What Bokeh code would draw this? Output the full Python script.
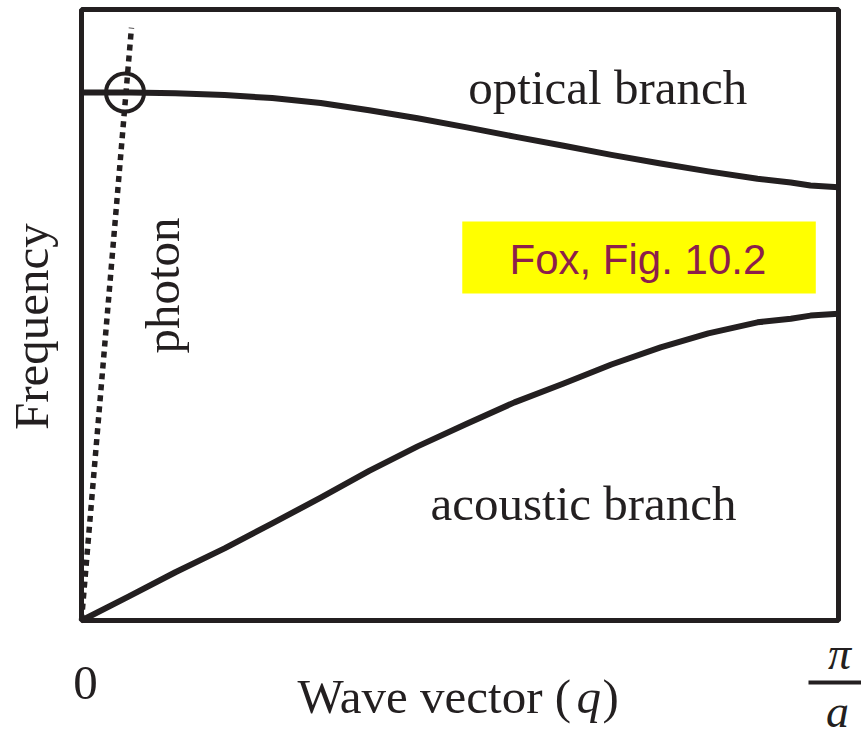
import math
from bokeh.plotting import figure
from bokeh.models import Range1d, Label
from bokeh.embed import file_html
from bokeh.resources import INLINE

# ---- data (q in units of pi/a, frequency normalised to the frame height) ----
optical_q = [0.0, 0.065, 0.124, 0.189, 0.252, 0.316, 0.380, 0.444, 0.509, 0.572,
             0.637, 0.700, 0.765, 0.828, 0.893, 0.937, 0.963, 1.0]
optical_f = [0.864, 0.864, 0.863, 0.860, 0.855, 0.847, 0.835, 0.822, 0.807, 0.792,
             0.777, 0.762, 0.748, 0.735, 0.723, 0.717, 0.712, 0.709]

acoustic_q = [0.0, 0.062, 0.124, 0.189, 0.252, 0.316, 0.380, 0.444, 0.509, 0.572,
              0.637, 0.700, 0.765, 0.828, 0.893, 0.937, 0.963, 1.0]
acoustic_f = [0.0, 0.039, 0.079, 0.118, 0.159, 0.201, 0.245, 0.285, 0.322, 0.357,
              0.388, 0.419, 0.447, 0.470, 0.488, 0.494, 0.499, 0.502]

photon_q = [0.0, 0.066]
photon_f = [0.0, 0.970]

crossing_q = [0.0575]
crossing_f = [0.864]

box_q = [0.503, 0.970]   # yellow note box
box_f = [0.535, 0.653]

INK = "#231f20"
SERIF = "Liberation Serif"

# frame spans q 0..1 and f 0..1; canvas margins expressed in data units
x_lo, x_hi = -81 / 757, 780 / 757
y_lo, y_hi = -118 / 611, 620 / 611
DY = 14 / 611   # baseline correction (horizontal texts)
DX = 14 / 757   # baseline correction (rotated texts)

p = figure(width=861, height=738, output_backend="svg", toolbar_location=None,
           x_range=Range1d(x_lo, x_hi), y_range=Range1d(y_lo, y_hi),
           x_axis_location=None, y_axis_location=None, min_border=0)
p.outline_line_color = None
p.grid.visible = False
p.background_fill_color = "white"
p.border_fill_color = "white"

# frame box
p.quad(left=[0], right=[1], bottom=[0], top=[1], fill_color=None,
       line_color=INK, line_width=5)

# yellow note
p.quad(left=[box_q[0]], right=[box_q[1]], bottom=[box_f[0]], top=[box_f[1]],
       fill_color="#ffff00", line_color=None)

# branches
p.line(optical_q, optical_f, line_color=INK, line_width=6, line_join="round")
p.line(acoustic_q, acoustic_f, line_color=INK, line_width=6, line_join="round")

# photon
p.line(photon_q, photon_f, line_color=INK, line_width=5.5, line_dash="6 5",
       line_cap="butt")

# crossing circle
p.scatter(crossing_q, crossing_f, marker="circle", size=38, fill_color=None,
          line_color=INK, line_width=4)

def lab(x, y, text, size="49px", align="left", angle=0.0, style="normal",
        color=INK, font=SERIF):
    p.add_layout(Label(x=x, y=y, text=text, text_font=font, text_font_size=size,
                       text_align=align, text_baseline="alphabetic", angle=angle,
                       text_font_style=style, text_color=color))

lab(0.511, 0.849 + DY, "optical branch")
lab(0.461, 0.1686 + DY, "acoustic branch")
lab(0.1255 - DX, 0.437, "photon", angle=math.pi / 2)
lab(-0.0476 - DX, 0.481, "Frequency", align="center", angle=math.pi / 2)
lab(0.735, 0.568 + DY, "Fox, Fig. 10.2", size="42px", align="center",
    color="#8c1f4b", font="Liberation Sans")

# x-axis texts
lab(0.0053, -0.126 + DY, "0", align="center")
lab((297 - 81) / 757, -0.147 + DY, "Wave vector (")
lab((576 - 81) / 757, -0.147 + DY, "q", style="italic")
lab((602 - 81) / 757, -0.147 + DY, ")")
lab((839 - 81) / 757, -0.0769 + DY, "π", size="46px", align="center", style="italic")
lab((837 - 81) / 757, -0.1720 + DY, "a", size="46px", align="center", style="italic")
p.segment(x0=[(808 - 81) / 757], y0=[-0.1015], x1=[x_hi], y1=[-0.1015],
          line_color=INK, line_width=4)

open("out.html", "w").write(file_html(p, INLINE))
